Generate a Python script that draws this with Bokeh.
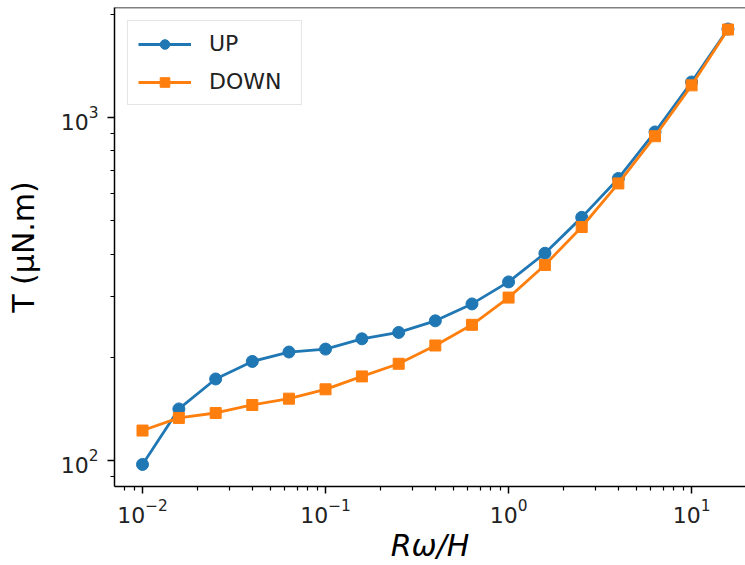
from bokeh.plotting import figure
from bokeh.models import Range1d, Legend, LegendItem, FixedTicker, LogTickFormatter, Span
from bokeh.embed import file_html
from bokeh.resources import INLINE

# data
x_vals = [0.01, 0.0158, 0.0251, 0.0398, 0.0631, 0.1, 0.158, 0.251, 0.398, 0.631,
          1.0, 1.58, 2.51, 3.98, 6.31, 10.0, 15.8]
up_vals = [97.4, 141.4, 172.9, 194.5, 207.2, 211.3, 226.4, 236.3, 255.5, 286.2,
           331.8, 402.1, 511.7, 664.5, 908.0, 1270.0, 1812.0]
down_vals = [122.3, 133.1, 137.6, 145.2, 151.5, 161.3, 175.9, 191.5, 216.5, 248.7,
             298.6, 371.8, 479.6, 642.7, 882.3, 1241.6, 1806.0]
series_names = ["UP", "DOWN"]

# tick positions (decades labelled, 2..9 minor)
x_major = [0.01, 0.1, 1.0, 10.0]
x_minor = [0.008, 0.009,
           0.02, 0.03, 0.04, 0.05, 0.06, 0.07, 0.08, 0.09,
           0.2, 0.3, 0.4, 0.5, 0.6, 0.7, 0.8, 0.9,
           2, 3, 4, 5, 6, 7, 8, 9,
           20, 30, 40, 50, 60, 70, 80, 90]
y_major = [100, 1000]
y_minor = [90, 200, 300, 400, 500, 600, 700, 800, 900, 2000]

BLUE = "#1f77b4"
ORANGE = "#ff7f0e"
FONT = "DejaVu Sans"
Y_TOP = 2094.0

p = figure(width=745, height=565, x_axis_type="log", y_axis_type="log",
           x_range=Range1d(0.00703, 19.7), y_range=Range1d(84.0, Y_TOP),
           output_backend="svg", toolbar_location=None,
           min_border_top=7, min_border_right=0, min_border_left=114, min_border_bottom=0)
p.outline_line_color = None
p.xgrid.visible = False
p.ygrid.visible = False
p.background_fill_color = "white"
p.border_fill_color = "white"

p.xaxis[0].ticker = FixedTicker(ticks=x_major, minor_ticks=x_minor)
p.yaxis[0].ticker = FixedTicker(ticks=y_major, minor_ticks=y_minor)

for ax in (p.xaxis[0], p.yaxis[0]):
    ax.formatter = LogTickFormatter()
    ax.axis_line_width = 1.5
    ax.axis_line_color = "black"
    ax.major_tick_line_width = 1.5
    ax.minor_tick_line_width = 1.2
    ax.major_tick_out = 7
    ax.major_tick_in = 0
    ax.minor_tick_out = 4
    ax.minor_tick_in = 0
    ax.major_label_text_font = FONT
    ax.major_label_text_font_size = "22px"
    ax.major_label_text_color = "#222222"
    ax.major_label_standoff = 5
    ax.axis_label_text_font = FONT
    ax.axis_label_text_font_size = "30px"
    ax.axis_label_text_color = "black"

p.yaxis[0].major_label_standoff = 9
p.xaxis[0].axis_label = "Rω/H"
p.xaxis[0].axis_label_text_font_style = "italic"
p.xaxis[0].axis_label_standoff = 2
p.yaxis[0].axis_label = "T (μN.m)"
p.yaxis[0].axis_label_text_font_style = "normal"
p.yaxis[0].axis_label_standoff = 17

# top spine
p.add_layout(Span(location=Y_TOP, dimension="width", line_color="black", line_width=1.5))

l_up = p.line(x_vals, up_vals, line_color=BLUE, line_width=2.8)
s_up = p.scatter(x_vals, up_vals, marker="circle", size=12,
                 fill_color=BLUE, line_color=BLUE)
l_dn = p.line(x_vals, down_vals, line_color=ORANGE, line_width=2.8)
s_dn = p.scatter(x_vals, down_vals, marker="square", size=11,
                 fill_color=ORANGE, line_color=ORANGE)

legend = Legend(items=[LegendItem(label=series_names[0], renderers=[l_up, s_up]),
                       LegendItem(label=series_names[1], renderers=[l_dn, s_dn])],
                location="top_left")
legend.margin = 13
legend.padding = 10
legend.spacing = 13
legend.glyph_width = 53
legend.glyph_height = 24
legend.label_height = 24
legend.label_width = 82
legend.label_standoff = 18
legend.label_text_font = FONT
legend.label_text_font_size = "22px"
legend.label_text_color = "#222222"
legend.border_line_color = "#cccccc"
legend.border_line_width = 1.5
legend.background_fill_alpha = 0.8
p.add_layout(legend)

open("out.html", "w").write(file_html(p, INLINE))
